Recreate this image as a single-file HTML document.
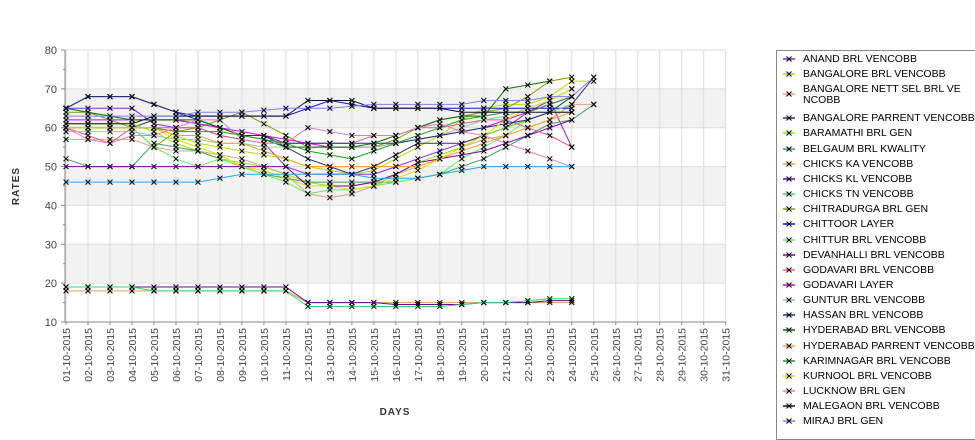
<!DOCTYPE html>
<html><head><meta charset="utf-8">
<style>
body{margin:0;background:#fff;width:975px;height:429px;overflow:hidden;font-family:"Liberation Sans","DejaVu Sans",sans-serif;}
#legend{position:absolute;left:776px;top:50px;width:205px;height:390px;border:1px solid #888;box-sizing:border-box;background:#fff;}
.li{position:absolute;left:0;font-size:10.5px;color:#000;line-height:11px;}
.li span.t{position:absolute;left:26px;white-space:nowrap;}
</style></head>
<body>
<svg id="chart" width="975" height="429" style="position:absolute;left:0;top:0"></svg>
<div id="legend"></div>
<script>
const categories=[];for(let d=1;d<=31;d++){categories.push((d<10?'0':'')+d+'-10-2015');}
const yTicks=[10,20,30,40,50,60,70,80];
const seriesNames=["ANAND BRL VENCOBB","BANGALORE BRL VENCOBB","BANGALORE NETT SEL BRL VE|NCOBB","BANGALORE PARRENT VENCOBB","BARAMATHI BRL GEN","BELGAUM BRL KWALITY","CHICKS KA VENCOBB","CHICKS KL VENCOBB","CHICKS TN VENCOBB","CHITRADURGA BRL GEN","CHITTOOR LAYER","CHITTUR BRL VENCOBB","DEVANHALLI BRL VENCOBB","GODAVARI BRL VENCOBB","GODAVARI LAYER","GUNTUR BRL VENCOBB","HASSAN BRL VENCOBB","HYDERABAD BRL VENCOBB","HYDERABAD PARRENT VENCOBB","KARIMNAGAR BRL VENCOBB","KURNOOL BRL VENCOBB","LUCKNOW BRL GEN","MALEGAON BRL VENCOBB","MIRAJ BRL GEN","MYSORE BRL VENCOBB"];
const seriesColors=["#8a2be2","#b0e000","#e0a080","#303070","#80f000","#40a060","#e0a050","#7000a0","#20e070","#80a000","#1010e0","#60f060","#8000a0","#e06080","#e000e0","#90c8a0","#203080","#007000","#ffa020","#20a020","#e0e000","#e080c0","#101030","#8080f0","#20a8f0"];
const s0=[65,65,65,65,61,60,60,58,57,56,50,48,48,48,48,50,52,54,56,58,60,64,67,55];
const s1=[60,60,60,60,60,58,56,55,54,53,52,50,49,48,49,52,55,58,62,65,66,66,68,72,72];
const s2=[57,57,57,57,55,54,54,53,52,50,48,43,42,43,45,48,50,52,55,57,58,60,62,66,66];
const s3=[60,60,60,60,62,62,61,60,58,58,55,52,50,48,50,53,56,56,56,58,60,62,64,66,73];
const s4=[61,61,61,61,59,56,54,52,51,50,48,46,45,45,46,48,51,53,55,58,60,62,64,64];
const s5=[52,50,50,50,56,55,54,52,50,48,47,46,46,46,46,46,47,48,50,52,55,58,61,62,66];
const s6=[18,18,18,18,18,18,18,18,18,18,18,15,15,15,15,15,15,15,15,15,15,15,15,15];
const s7=[19,19,19,19,19,19,19,19,19,19,19,15,15,15,15,14.5,14.5,14.5,14.5,15,15,15,15.5,15.5];
const s8=[19,19,19,19,18,18,18,18,18,18,18,14,14,14,14,14,14,14,14.5,15,15,15.5,16,16];
const s9=[64,64,62,60,55,59,60,62,64,61,58,55,55,55,55,57,60,62,63,64,65,68,72,73];
const s10=[65,68,68,68,66,64,63,63,63,63,63,65,67,66,65,65,65,65,65,65,65,65,65,65];
const s11=[60,60,60,60,55,52,50,52,50,48,46,43,44,44,45,46,47,48,52,55,58,62,64,66];
const s12=[50,50,50,50,50,50,50,50,50,50,50,45,45,45,46,48,51,52,53,54,56,58,60,62];
const s13=[60,58,56,60,60,60,60,58,57,56,56,56,56,56,58,58,60,60,61,62,62,60,58,55];
const s14=[62,62,62,62,62,62,61,60,59,58,57,56,55,55,55,56,57,58,59,60,62,64,66,68];
const s15=[59,59,59,59,58,57,57,56,56,55,55,55,55,55,55,56,57,58,60,62,63,65,67,70];
const s16=[65,68,68,68,66,64,62,60,58,58,56,56,56,56,56,56,57,58,59,60,61,62,64,68];
const s17=[65,64,63,62,62,62,62,60,58,57,55,55,55,55,56,58,60,62,63,63,70,71,72];
const s18=[60,60,60,60,60,58,58,56,56,54,52,50,50,50,50,50,50,52,54,56,58,60,62,64];
const s19=[60,60,60,60,60,59,59,59,58,57,56,54,53,52,54,56,58,60,62,63,64,64,66,68];
const s20=[60,60,60,60,60,57,55,53,50,49,47,45,45,44,45,47,49,52,55,58,62,65,67,70];
const s21=[60,57,56,58,58,60,62,62,57,56,56,60,59,58,58,58,60,61,59,58,56,54,52,50];
const s22=[61,61,61,61,63,63,63,63,63,63,63,67,67,67,65,65,65,65,64,64,64,64,64,64];
const s23=[63,63,63,63,63,63,64,64,64,64.5,65,65,65,65.5,66,66,66,66,66,67,67,67,68,68,73];
const s24=[46,46,46,46,46,46,46,47,48,48,48,48,48,48,47,47,47,48,49,50,50,50,50,50];
const seriesValues=[s0,s1,s2,s3,s4,s5,s6,s7,s8,s9,s10,s11,s12,s13,s14,s15,s16,s17,s18,s19,s20,s21,s22,s23,s24];

const L=65,R=726,T=50,B=322,ymin=10,ymax=80;
const xs=i=>66+i*(725.7-66)/30;
const ys=v=>B-(v-ymin)/(ymax-ymin)*(B-T);
const NS='http://www.w3.org/2000/svg';
const svg=document.getElementById('chart');
function mk(tag,attrs,parent){const e=document.createElementNS(NS,tag);for(const k in attrs)e.setAttribute(k,attrs[k]);(parent||svg).appendChild(e);return e;}
[[60,70],[40,50],[20,30]].forEach(b=>{const r=mk('rect',{x:L,y:ys(b[1]),width:R-L,height:ys(b[0])-ys(b[1]),fill:'#f2f2f2'});

});
yTicks.forEach(v=>{const g=mk('line',{x1:L,x2:R,y1:ys(v),y2:ys(v),stroke:'#ddd','stroke-width':1});


const t=mk('text',{x:57,y:ys(v)+4,'text-anchor':'end','font-size':11,fill:'#444'});t.textContent=v;


mk('line',{x1:L-4,x2:L,y1:ys(v),y2:ys(v),stroke:'#888'});
if(v<ymax)mk('line',{x1:L-2,x2:L,y1:ys(v+5),y2:ys(v+5),stroke:'#888'});});
categories.forEach((c,i)=>{const x=xs(i);const g=mk('line',{x1:x,x2:x,y1:T,y2:B,stroke:'#ddd'});


mk('line',{x1:x,x2:x,y1:B,y2:B+3,stroke:'#888'});
const t=mk('text',{x:0,y:0,'text-anchor':'end','font-size':10.5,fill:'#444',transform:`translate(${x+4},${B+6}) rotate(-90)`});t.textContent=c;

});
mk('line',{x1:L,x2:L,y1:T,y2:B,stroke:'#888'});mk('line',{x1:L,x2:R,y1:B,y2:B,stroke:'#888'});
seriesValues.forEach((vals,si)=>{const g=mk('g',{});


const pts=vals.map((v,i)=>xs(i).toFixed(1)+','+ys(v).toFixed(1)).join(' ');
mk('polyline',{points:pts,fill:'none',stroke:seriesColors[si],'stroke-width':1},g);
vals.forEach((v,i)=>{const x=xs(i),y=ys(v);const p=mk('path',{d:`M${x-2.5},${y-2.5}L${x+2.5},${y+2.5}M${x-2.5},${y+2.5}L${x+2.5},${y-2.5}`,stroke:'#000','stroke-width':1},g);

});});
let t=mk('text',{x:395,y:415,'text-anchor':'middle','font-size':10,'font-weight':'bold',fill:'#333','letter-spacing':'1'});t.textContent='DAYS';


t=mk('text',{x:0,y:0,'text-anchor':'middle','font-size':10,'font-weight':'bold',fill:'#333','letter-spacing':'1',transform:'translate(19,186) rotate(-90)'});t.textContent='RATES';


const leg=document.getElementById('legend');
let y=3;
for(let si=0;si<24;si++){const name=seriesNames[si];const two=name.includes('|');
const d=document.createElement('div');d.className='li';d.style.top=y+'px';


const my=two?10:5;
d.innerHTML=`<svg width="20" height="22" style="position:absolute;left:4px;top:0"><line x1="2" x2="14" y1="${my}" y2="${my}" stroke="${seriesColors[si]}" stroke-width="1.5"/><path d="M5.5,${my-2.5}L10.5,${my+2.5}M5.5,${my+2.5}L10.5,${my-2.5}" stroke="#000"/></svg><span class="t">${two?name.split('|').join('<br>'):name}</span>`;
leg.appendChild(d);
y+=two?29:15.15;}
</script>
</body></html>
